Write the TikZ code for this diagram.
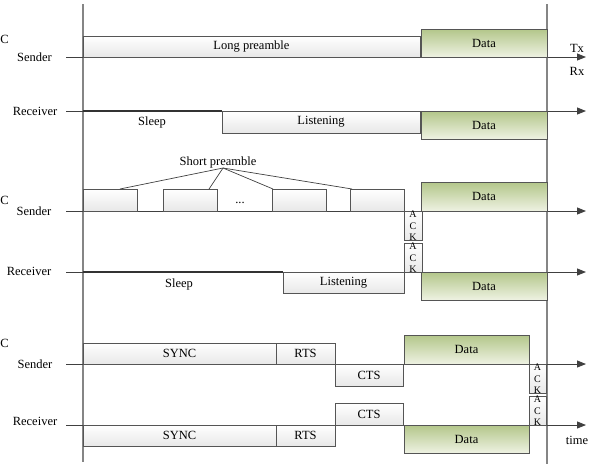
\documentclass[tikz,border=0pt]{standalone}
\usepackage{fontspec}
\setmainfont{Liberation Serif}
\usetikzlibrary{arrows.meta}
\definecolor{axiscol}{HTML}{404040}
\definecolor{vcol}{HTML}{858585}
\definecolor{edgecol}{HTML}{555555}
\definecolor{gtop}{HTML}{B3C68A}
\definecolor{gbot}{HTML}{EEF2E2}
\newcommand\bx[7]{\node[#1, minimum width={#5pt-#3pt}, minimum height={#6pt-#4pt}, anchor=north west] (#2) at (#3,#4) {#7};}
\begin{document}
\begin{tikzpicture}[x=1pt,y=-1pt,
  every node/.style={font=\fontsize{12.5}{14}\selectfont, inner sep=0pt, outer sep=0pt},
  axisarrow/.style={draw=axiscol, line width=0.9pt, -{Triangle[length=9pt,width=7pt]}},
  sleepline/.style={draw=black!80, line width=2pt},
  vertline/.style={draw=vcol, line width=1.3pt},
  pointer/.style={draw=axiscol, line width=0.7pt},
  wbox/.style={draw=edgecol, line width=0.9pt, top color=white, bottom color=black!9, rectangle},
  dbox/.style={draw=edgecol, line width=0.9pt, top color=gtop, bottom color=gbot, rectangle},
  ackbox/.style={wbox, align=center, font=\fontsize{10}{11.6}\selectfont},
]
\useasboundingbox (0,0) rectangle (602,464);

% vertical boundary lines
\coordinate (L1) at (83,4); \coordinate (L2) at (83,462);
\coordinate (R1) at (547,4); \coordinate (R2) at (547,464);
\draw[vertline] (L1) -- (L2);
\draw[vertline] (R1) -- (R2);

% ---------- section 1 ----------
\node[anchor=base west] (c1) at (0.3,43) {C};
\node[anchor=base] (snd1) at (34.5,61) {Sender};
\node[anchor=base] (rcv1) at (35,115) {Receiver};
\coordinate (s1a) at (66,57); \coordinate (s1b) at (586,57);
\coordinate (r1a) at (66,111); \coordinate (r1b) at (586,111);
\draw[axisarrow] (s1a) -- (s1b);
\draw[axisarrow] (r1a) -- (r1b);
\coordinate (sl1a) at (83,111); \coordinate (sl1b) at (222,111);
\draw[sleepline] (sl1a) -- (sl1b);
\node[anchor=base] (sleep1) at (152,125) {Sleep};
\bx{wbox}{lp}{83}{36}{420}{57}{Long preamble}
\bx{dbox}{d1}{421}{29}{547}{57}{Data}
\bx{wbox}{lis1}{222}{111}{420}{133}{Listening}
\bx{dbox}{d2}{421}{111}{547}{139}{Data}
\node[anchor=base] (tx) at (577,52) {Tx};
\node[anchor=base] (rx) at (577,75) {Rx};

% ---------- section 2 ----------
\node[anchor=base west] (c2) at (0.3,204) {C};
\node[anchor=base] (snd2) at (34,215) {Sender};
\node[anchor=base] (rcv2) at (29,275) {Receiver};
\coordinate (s2a) at (66,211); \coordinate (s2b) at (586,211);
\coordinate (r2a) at (66,272); \coordinate (r2b) at (586,272);
\draw[axisarrow] (s2a) -- (s2b);
\draw[axisarrow] (r2a) -- (r2b);
\coordinate (sl2a) at (83,272); \coordinate (sl2b) at (283,272);
\draw[sleepline] (sl2a) -- (sl2b);
\node[anchor=base] (sleep2) at (179,287) {Sleep};
\bx{wbox}{p1}{83}{189}{137}{211}{}
\bx{wbox}{p2}{163}{189}{217}{211}{}
\bx{wbox}{p3}{272}{189}{326}{211}{}
\bx{wbox}{p4}{350}{189}{404}{211}{}
\node[anchor=base] (dots) at (240,203) {...};
\node[anchor=base] (sp) at (218,165.5) {Short preamble};
\coordinate (spc) at (223,168);
\draw[pointer] (spc) -- ([xshift=37pt]p1.north west);
\draw[pointer] (spc) -- ([xshift=46pt]p2.north west);
\draw[pointer] (spc) -- ([xshift=1pt]p3.north west);
\draw[pointer] (spc) -- ([xshift=2pt]p4.north west);
\bx{dbox}{d3}{421}{182}{547}{211}{Data}
\bx{ackbox}{ack1}{404}{211}{422}{239}{A\\C\\K}
\bx{ackbox}{ack2}{404}{243}{422}{272}{A\\C\\K}
\bx{wbox}{lis2}{283}{272}{404}{293}{Listening}
\bx{dbox}{d4}{421}{272}{547}{300}{Data}

% ---------- section 3 ----------
\node[anchor=base west] (c3) at (0.3,347) {C};
\node[anchor=base] (snd3) at (35,368) {Sender};
\node[anchor=base] (rcv3) at (35,425) {Receiver};
\coordinate (s3a) at (66,364); \coordinate (s3b) at (586,364);
\coordinate (r3a) at (66,425); \coordinate (r3b) at (586,425);
\draw[axisarrow] (s3a) -- (s3b);
\draw[axisarrow] (r3a) -- (r3b);
\bx{wbox}{sync1}{83}{343}{276}{364}{SYNC}
\bx{wbox}{rts1}{276}{343}{335}{364}{RTS}
\bx{wbox}{cts1}{335}{364}{403}{386}{CTS}
\bx{dbox}{d5}{404}{335}{529}{364}{Data}
\bx{ackbox}{ack3}{529}{364}{546}{393}{A\\C\\K}
\bx{ackbox}{ack4}{529}{396}{546}{425}{A\\C\\K}
\bx{wbox}{cts2}{335}{403}{403}{425}{CTS}
\bx{wbox}{sync2}{83}{425}{276}{446}{SYNC}
\bx{wbox}{rts2}{276}{425}{335}{446}{RTS}
\bx{dbox}{d6}{404}{425}{529}{453}{Data}
\node[anchor=base] (time) at (577,444) {time};
\end{tikzpicture}
\end{document}
